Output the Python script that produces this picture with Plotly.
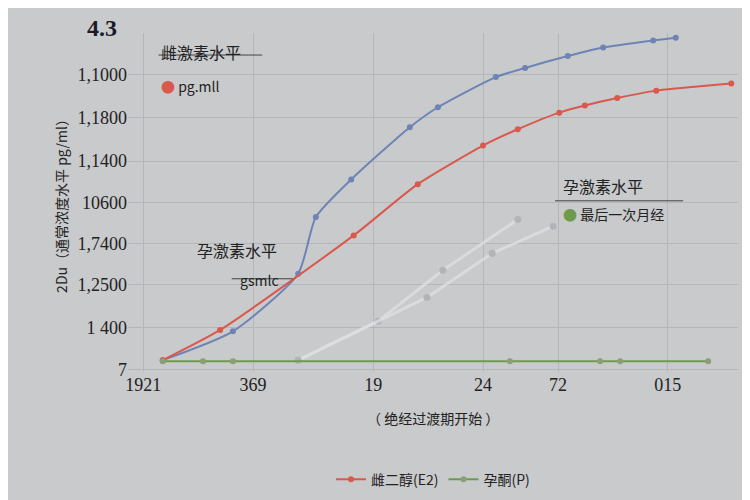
import plotly.graph_objects as go

# values (axis units 0-100)
blue_x = [5.7, 17.2, 27.9, 30.8, 36.6, 46.2, 50.8, 60.3, 65.1, 72.1, 77.9, 86.1, 89.8]
blue_y = [3.5, 12.0, 29.0, 45.7, 56.8, 72.2, 78.1, 87.0, 89.7, 93.2, 95.7, 97.8, 98.6]
red_x = [5.7, 15.1, 37.0, 47.5, 58.2, 63.9, 70.7, 74.9, 80.2, 86.6, 98.9]
red_y = [3.5, 12.4, 40.3, 55.4, 66.8, 71.6, 76.5, 78.6, 80.8, 83.0, 85.1]
green_x = [5.7, 12.3, 17.2, 62.6, 77.4, 80.7, 95.1]
green_y = [3.2, 3.2, 3.2, 3.2, 3.2, 3.2, 3.2]
gray1_x = [27.9, 41.0, 51.6, 63.9]
gray1_y = [3.5, 15.0, 30.0, 45.0]
gray2_x = [27.9, 49.0, 59.7, 69.7]
gray2_y = [3.5, 22.0, 35.0, 43.0]

x_ticks = [2.5, 20.5, 40.2, 58.2, 70.5, 88.5]
x_labels = ["1921", "369", "19", "24", "72", "015"]
y_ticks = [87.8, 75.1, 62.2, 50.0, 37.8, 25.7, 13.0, 0.8]
y_labels = ["1,1000", "1,1800", "1,1400", "10600", "1,7400", "1,2500", "1 400", "7"]

fig = go.Figure()
for xs, ys in [(gray1_x, gray1_y), (gray2_x, gray2_y)]:
    fig.add_trace(go.Scatter(x=xs, y=ys, mode="lines+markers", showlegend=False,
                             line=dict(color="rgba(222,222,226,0.8)", width=3),
                             marker=dict(color="#b3b4b8", size=7)))
fig.add_trace(go.Scatter(x=blue_x, y=blue_y, mode="lines+markers", showlegend=False,
                         line=dict(color="#6d84b4", width=2, shape="spline", smoothing=0.6),
                         marker=dict(color="#6d84b4", size=6)))
fig.add_trace(go.Scatter(x=red_x, y=red_y, mode="lines+markers", name="雌二醇(E2)",
                         line=dict(color="#d9594c", width=2, shape="spline", smoothing=0.6),
                         marker=dict(color="#d9594c", size=6)))
fig.add_trace(go.Scatter(x=green_x, y=green_y, mode="lines+markers", name="孕酮(P)",
                         line=dict(color="#6e9a4c", width=2),
                         marker=dict(color="#8a9e7a", size=6)))

font = "Noto Sans CJK SC"
ann = [
    dict(x=-0.07, y=1.06, text="<b>4.3</b>", font=dict(size=24, color="#1a1a2a", family="Liberation Serif")),
    dict(x=0.05, y=0.985, text="雌激素水平", font=dict(size=16), xanchor="left"),
    dict(x=0.05, y=0.88, text="<span style='color:#d9594c'>●</span> pg.mll", font=dict(size=14), xanchor="left"),
    dict(x=0.71, y=0.55, text="孕激素水平", font=dict(size=16), xanchor="left"),
    dict(x=0.71, y=0.465, text="<span style='color:#6e9a4c'>●</span> 最后一次月经", font=dict(size=14), xanchor="left"),
    dict(x=0.11, y=0.32, text="孕激素水平", font=dict(size=16), xanchor="left"),
    dict(x=0.18, y=0.235, text="gsmlc", font=dict(size=14), xanchor="left"),
    dict(x=0.5, y=-0.17, text="（ 绝经过渡期开始 ）", font=dict(size=14)),
]
for a in ann:
    a.update(xref="paper", yref="paper", showarrow=False)
    a["font"].setdefault("color", "#222")
    a["font"].setdefault("family", font)

fig.update_layout(
    width=750, height=500,
    margin=dict(l=120, r=20, t=25, b=105),
    paper_bgcolor="#c9cacc", plot_bgcolor="#c9cacc",
    font=dict(family=font, size=16, color="#222"),
    annotations=ann,
    shapes=[
        dict(type="line", xref="paper", yref="paper", x0=0.05, x1=0.22, y0=0.935, y1=0.935,
             line=dict(color="#444", width=1)),
        dict(type="line", xref="paper", yref="paper", x0=0.70, x1=0.91, y0=0.505, y1=0.505,
             line=dict(color="#444", width=1)),
        dict(type="line", xref="paper", yref="paper", x0=0.17, x1=0.27, y0=0.275, y1=0.275,
             line=dict(color="#444", width=1)),
    ],
    legend=dict(orientation="h", x=0.5, xanchor="center", y=-0.27, yanchor="top",
                font=dict(size=14), bgcolor="rgba(0,0,0,0)"),
    xaxis=dict(range=[0, 100], tickvals=x_ticks, ticktext=x_labels, showgrid=True,
               gridcolor="#b4b6ba", zeroline=False, showline=False, ticks="",
               tickfont=dict(family="Liberation Serif", size=18)),
    yaxis=dict(range=[0, 100], tickvals=y_ticks, ticktext=y_labels, showgrid=True,
               gridcolor="#b4b6ba", zeroline=False, ticks="",
               tickfont=dict(family="Liberation Serif", size=18),
               title=dict(text="2Du（通常浓度水平 pg/ml）", font=dict(size=14), standoff=6)),
)

fig.write_html("out.html")
